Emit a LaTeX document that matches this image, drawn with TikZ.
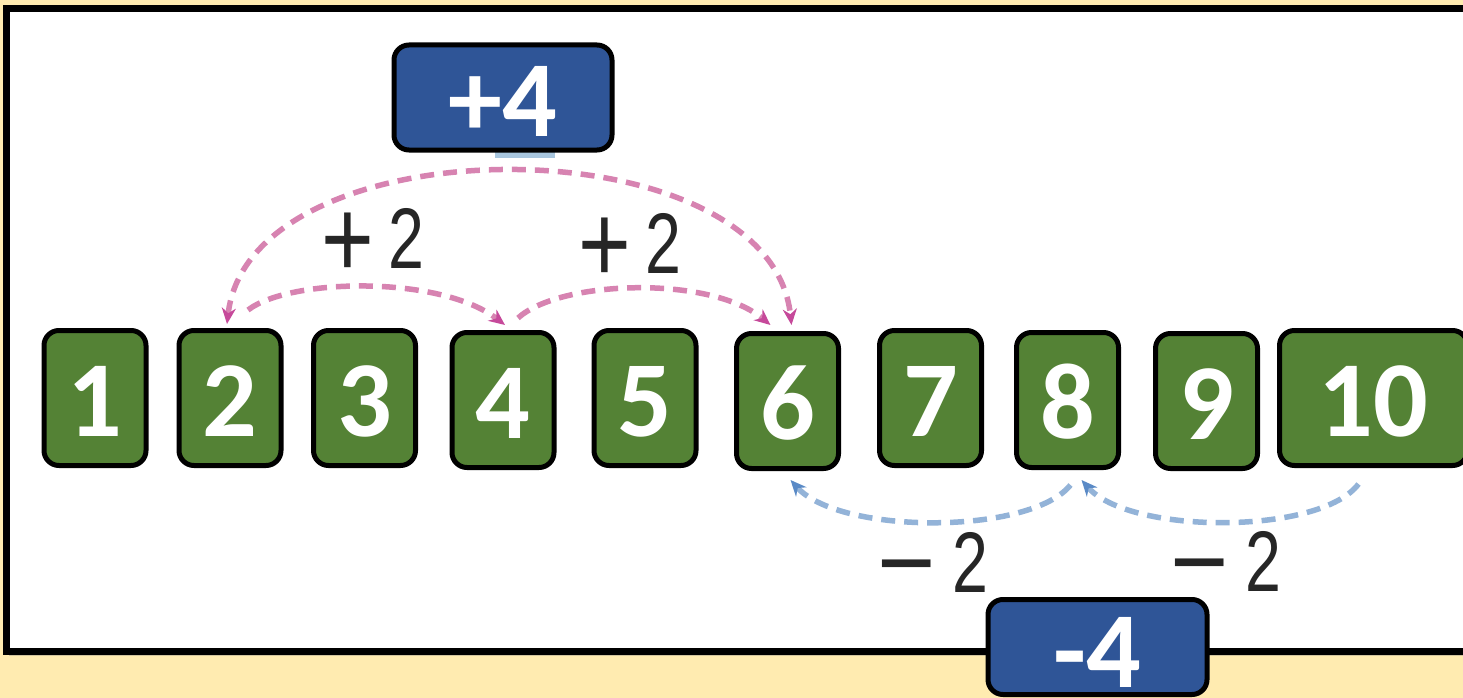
\documentclass[tikz,border=0pt]{standalone}
\usepackage{fontspec}
\usetikzlibrary{arrows.meta,shadows}
\newfontfamily\carlito{Carlito}
\newfontfamily\condfont[FakeStretch=0.75]{Liberation Sans}
\definecolor{bgyellow}{HTML}{FFEBB0}
\definecolor{numgreen}{HTML}{548235}
\definecolor{opblue}{HTML}{2F5597}
\definecolor{arcpink}{HTML}{D783B1}
\definecolor{tippink}{HTML}{C6499A}
\definecolor{arcblue}{HTML}{93B3D8}
\definecolor{tipblue}{HTML}{5A8AC6}
\definecolor{labelgray}{HTML}{262626}
\definecolor{lightbar}{HTML}{A8C6DE}
\newcommand\bigplus{\raisebox{-9pt}{\scalebox{1.4}[1.3]{+}}}
\newcommand\bigminus{\raisebox{-7pt}{\scalebox{1.55}[1.25]{−}}}
\begin{document}
\begin{tikzpicture}[x=1pt,y=-1pt,
 numbox/.style={draw=black,line width=5pt,rounded corners=15pt,fill=numgreen,text=white,
   font=\carlito\bfseries\fontsize{108}{108}\selectfont,minimum width=102pt,minimum height=135pt,
   inner sep=0pt,text height=77pt,text depth=0pt},
 opbox/.style={draw=black,line width=5pt,rounded corners=15pt,fill=opblue,text=white,
   font=\carlito\bfseries\fontsize{108}{108}\selectfont,minimum width=218pt,
   inner sep=0pt,text depth=0pt},
 steplabel/.style={font=\condfont\fontsize{86}{86}\selectfont,text=labelgray,inner sep=0pt},
 pinkarc/.style={draw=arcpink,line width=5.5pt,dash pattern=on 14pt off 9pt},
 bluearc/.style={draw=arcblue,line width=5.5pt,dash pattern=on 14pt off 9pt}
]
\useasboundingbox (0,0) rectangle (1463,698);
\fill[bgyellow] (0,0) rectangle (1463,698);
% frame
\draw[line width=7pt,fill=white,drop shadow={opacity=0.35,shadow xshift=3pt,shadow yshift=-5pt}]
  (6,9) rectangle (1495,651);
\fill[lightbar] (495,148) rectangle (555,158);
% number boxes
\node[numbox] (n1) at (95,398) {1};
\node[numbox] (n2) at (230,398) {2};
\node[numbox] (n3) at (364.5,398) {3};
\node[numbox] (n4) at (503,400) {4};
\node[numbox] (n5) at (645,398) {5};
\node[numbox] (n6) at (787.5,401) {6};
\node[numbox] (n7) at (930.5,398) {7};
\node[numbox] (n8) at (1067.5,400) {8};
\node[numbox] (n9) at (1206.5,401) {9};
\node[numbox,minimum width=188pt] (n10) at (1373.5,398) {10};
% pink arcs
\draw[pinkarc,{Stealth[length=16pt,width=14pt,color=tippink]}-{Stealth[length=16pt,width=14pt,color=tippink]}]
  ([xshift=-3pt,yshift=4pt]n2.north) .. controls (250,121) and (770,121) .. ([xshift=4pt,yshift=6pt]n6.north);
\draw[pinkarc,-{Stealth[length=16pt,width=14pt,color=tippink]}]
  ([xshift=18pt,yshift=18pt]n2.north) .. controls (290,278) and (440,275) .. ([xshift=2pt,yshift=5pt]n4.north);
\draw[pinkarc,-{Stealth[length=16pt,width=14pt,color=tippink]}]
  ([xshift=15pt,yshift=12pt]n4.north) .. controls (560,280) and (710,275) .. ([xshift=-17pt,yshift=6pt]n6.north);
% blue arcs
\draw[bluearc,-{Stealth[length=16pt,width=14pt,color=tipblue]}]
  ([xshift=3pt,yshift=-15pt]n8.south) .. controls (1030,535) and (840,535) .. ([xshift=3pt,yshift=-9pt]n6.south);
\draw[bluearc,-{Stealth[length=16pt,width=14pt,color=tipblue]}]
  ([xshift=-15pt,yshift=-16pt]n10.south) .. controls (1320,535) and (1130,535) .. ([xshift=14pt,yshift=-10pt]n8.south);
% labels
\node[steplabel] (p1) at (373,243) {\bigplus\hspace{14pt}2};
\node[steplabel] (p2) at (630,248) {\bigplus\hspace{14pt}2};
\node[steplabel] (m1) at (933,566) {\bigminus\hspace{16pt}2};
\node[steplabel] (m2) at (1226,565) {\bigminus\hspace{16pt}2};
% operation boxes
\node[opbox,minimum height=105pt,text height=78pt] (plus4) at (503,97.5) {+4};
\node[opbox,minimum height=95pt,minimum width=219pt,text height=80pt] (minus4) at (1097.5,647) {-4};
\end{tikzpicture}
\end{document}
